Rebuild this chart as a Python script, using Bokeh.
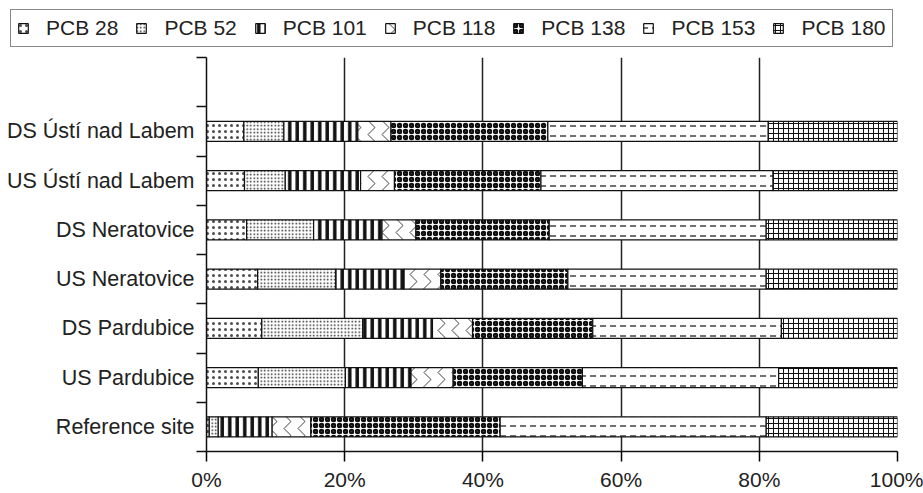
from bokeh.plotting import figure
from bokeh.layouts import column
from bokeh.models import ColumnDataSource, FixedTicker, Legend, LegendItem, Range1d
from bokeh.embed import file_html
from bokeh.resources import INLINE

sites = ["Reference site", "US Pardubice", "DS Pardubice", "US Neratovice",
         "DS Neratovice", "US Ústí nad Labem", "DS Ústí nad Labem"]
congeners = ["PCB 28", "PCB 52", "PCB 101", "PCB 118", "PCB 138", "PCB 153", "PCB 180"]
pcb28 = [0.4, 7.5, 8.0, 7.4, 5.8, 5.5, 5.4]
pcb52 = [1.3, 12.6, 14.6, 11.3, 9.7, 5.9, 5.8]
pcb101 = [7.8, 9.5, 10.1, 9.9, 9.9, 10.9, 10.7]
pcb118 = [5.6, 6.1, 5.8, 5.3, 4.9, 4.9, 4.8]
pcb138 = [27.4, 18.7, 17.4, 18.4, 19.3, 21.2, 22.7]
pcb153 = [38.5, 28.4, 27.3, 28.7, 31.4, 33.6, 31.9]
pcb180 = [19.0, 17.2, 16.8, 19.0, 19.0, 18.0, 18.7]
x_ticks = [0, 20, 40, 60, 80, 100]

series = [pcb28, pcb52, pcb101, pcb118, pcb138, pcb153, pcb180]
pos = [i + 1 for i in range(len(sites))]
data = {"pos": pos}
for name, vals in zip(congeners, series):
    data[name] = vals
source = ColumnDataSource(data)

FONT = "Liberation Sans"
TXT = "#222222"

styles = [
    dict(hatch_pattern="dot", hatch_scale=6, hatch_weight=1, hatch_alpha=0.75),
    dict(hatch_pattern="dot", hatch_scale=3.5, hatch_weight=1, hatch_alpha=0.9),
    dict(hatch_pattern="vertical_line", hatch_scale=7.5, hatch_weight=3.5, hatch_alpha=1.0),
    dict(hatch_pattern="vertical_wave", hatch_scale=14, hatch_weight=1, hatch_alpha=0.8),
    dict(hatch_pattern="ring", hatch_scale=6, hatch_weight=2.5, hatch_alpha=1.0),
    dict(hatch_pattern="horizontal_dash", hatch_scale=10, hatch_weight=1.2, hatch_alpha=1.0),
    dict(hatch_pattern="cross", hatch_scale=5, hatch_weight=1, hatch_alpha=1.0),
]


def add_bars(fig):
    return fig.hbar_stack(congeners, y="pos", height=0.41, source=source,
                          fill_color="white", line_color="#111111", line_width=1.2,
                          hatch_color="#111111",
                          hatch_pattern=[s["hatch_pattern"] for s in styles],
                          hatch_scale=[s["hatch_scale"] for s in styles],
                          hatch_weight=[s["hatch_weight"] for s in styles],
                          hatch_alpha=[s["hatch_alpha"] for s in styles])


W = 923
LEG_H = 50

# ---- legend strip (its bars lie outside its visible range) ----
top = figure(width=W, height=LEG_H, output_backend="svg", toolbar_location=None,
             x_range=Range1d(0, 100), y_range=Range1d(100, 101),
             x_axis_location=None, y_axis_location=None,
             min_border_left=0, min_border_right=0, min_border_top=0, min_border_bottom=0)
top.frame_align = False
top.outline_line_color = None
top.grid.visible = False
leg_renderers = add_bars(top)
legend = Legend(items=[LegendItem(label=c, renderers=[r]) for c, r in zip(congeners, leg_renderers)],
                orientation="horizontal", location=(10, 3))
legend.label_text_font = FONT
legend.label_text_font_size = "21px"
legend.label_text_color = TXT
legend.glyph_width = 12
legend.glyph_height = 12
legend.label_standoff = 17
legend.spacing = 17
legend.padding = 6
legend.margin = 0
legend.border_line_color = "#111111"
legend.border_line_width = 1.5
legend.background_fill_alpha = 0
top.add_layout(legend, "center")

# ---- main chart ----
H = 493 - LEG_H
ML, MR, MT, MB = 206, 26, 57 - LEG_H, 42

p = figure(width=W, height=H, output_backend="svg", toolbar_location=None,
           x_range=Range1d(0, 100), y_range=Range1d(0.5, len(sites) + 1.5),
           min_border_left=ML, min_border_right=MR, min_border_top=MT,
           min_border_bottom=MB)
p.frame_align = False
p.outline_line_color = None
add_bars(p)

# x axis
p.xaxis.ticker = FixedTicker(ticks=x_ticks)
p.xaxis.major_label_overrides = {t: f"{t}%" for t in x_ticks}
p.xaxis.major_tick_out = 10
p.xaxis.major_tick_in = 0
p.xaxis.minor_tick_out = 0
p.xaxis.minor_tick_in = 0
p.xaxis.axis_line_width = 1.5
p.xaxis.axis_line_color = "#111111"
p.xaxis.major_tick_line_width = 1.5
p.xaxis.major_label_text_font = FONT
p.xaxis.major_label_text_font_size = "21px"
p.xaxis.major_label_text_color = TXT
p.xaxis.major_label_standoff = 6

p.xgrid.ticker = FixedTicker(ticks=x_ticks)
p.xgrid.grid_line_color = "#222222"
p.xgrid.grid_line_width = 1.5
p.ygrid.grid_line_color = None

# y axis
p.yaxis.ticker = FixedTicker(ticks=pos, minor_ticks=[i + 0.5 for i in range(len(sites) + 2)])
p.yaxis.major_label_overrides = {k: s for k, s in zip(pos, sites)}
p.yaxis.major_tick_out = 0
p.yaxis.major_tick_in = 0
p.yaxis.minor_tick_out = 10
p.yaxis.minor_tick_in = 0
p.yaxis.minor_tick_line_width = 1.5
p.yaxis.minor_tick_line_color = "#111111"
p.yaxis.axis_line_width = 1.5
p.yaxis.axis_line_color = "#111111"
p.yaxis.major_label_text_font = FONT
p.yaxis.major_label_text_font_size = "21.5px"
p.yaxis.major_label_text_color = TXT
p.yaxis.major_label_standoff = 2

layout = column(top, p, spacing=0)
open("out.html", "w").write(file_html(layout, INLINE))
